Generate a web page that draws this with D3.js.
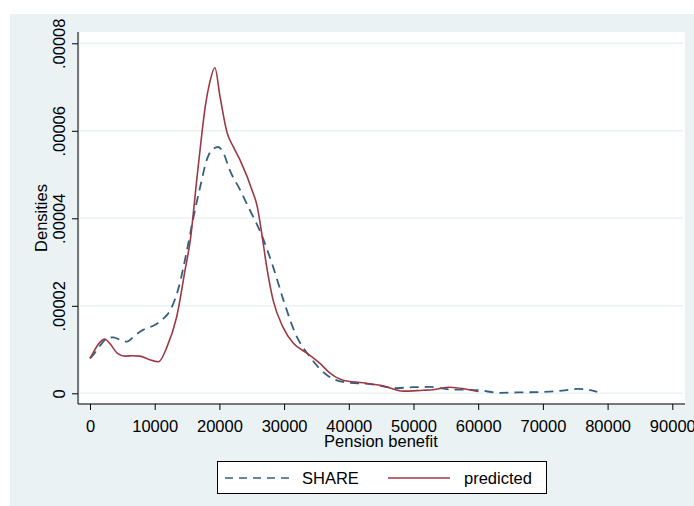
<!DOCTYPE html>
<html>
<head>
<meta charset="utf-8">
<script src="https://cdn.jsdelivr.net/npm/d3@7"></script>
<style>
  body { margin: 0; background: #fff; }
  text { font-family: "Liberation Sans", Arial, sans-serif; fill: #000; }
</style>
</head>
<body>
<svg id="chart" width="694" height="506"></svg>
<script>
// kernel densities of pension benefit
var shareX = [0, 500, 1500, 2600, 3600, 4700, 5700, 7000, 8200, 10000, 11300, 12400, 13600, 15000,
  15900, 17000, 18200, 19000, 19800, 20600, 21600, 23200, 24700, 26300, 28300, 29900, 31700,
  34000, 36600, 39100, 43300, 47400, 50000, 52500, 55600, 58300, 60000, 63400, 66000, 69600,
  73000, 75300, 77000, 78400];
var shareY = [0.80, 0.88, 1.08, 1.25, 1.28, 1.22, 1.18, 1.33, 1.45, 1.56, 1.70, 1.90, 2.36, 3.28,
  3.96, 4.70, 5.40, 5.58, 5.63, 5.50, 5.10, 4.65, 4.19, 3.70, 2.89, 2.13, 1.38,
  0.83, 0.42, 0.26, 0.21, 0.12, 0.14, 0.145, 0.09, 0.08, 0.07, 0.01, 0.02, 0.03,
  0.06, 0.10, 0.08, 0.03].map(function(d) { return d * 1e-5; });

var predX = [0, 300, 1550, 2300, 3000, 4200, 5400, 6600, 7700, 9000, 10600, 11900, 13400, 14700,
  15500, 16500, 17300, 17800, 18500, 19300, 20100, 21200, 22100, 23200, 25200, 25800, 26600,
  27300, 28300, 29800, 31400, 33500, 35500, 37100, 39100, 42200, 45300, 48400, 51500, 53000,
  55600, 58000, 60000];
var predY = [0.80, 0.88, 1.17, 1.24, 1.15, 0.92, 0.85, 0.86, 0.85, 0.78, 0.72, 1.06, 1.75, 2.82,
  3.50, 4.88, 5.95, 6.54, 7.10, 7.44, 6.78, 5.95, 5.65, 5.33, 4.58, 4.30, 3.60,
  2.90, 2.13, 1.52, 1.15, 0.92, 0.69, 0.46, 0.30, 0.24, 0.17, 0.05, 0.07, 0.08,
  0.14, 0.10, 0.04].map(function(d) { return d * 1e-5; });

var xTicks = [0, 10000, 20000, 30000, 40000, 50000, 60000, 70000, 80000, 90000];
var yTicks = [0, 0.00002, 0.00004, 0.00006, 0.00008];
var yTickLabels = ["0", ".00002", ".00004", ".00006", ".00008"];
var seriesNames = ["SHARE", "predicted"];

var svg = d3.select("#chart");
var fs = "16.5px";

// outer graph region
svg.append("rect").attr("x", 10).attr("y", 14).attr("width", 684).attr("height", 492)
  .attr("fill", "#eaf2f3");
// plot region
svg.append("rect").attr("x", 80).attr("y", 32).attr("width", 605).attr("height", 371)
  .attr("fill", "#fff");

var x = d3.scaleLinear().domain([0, 90000]).range([90, 672.3]);
var y = d3.scaleLinear().domain([0, 0.00008]).range([393.3, 43.3]);

// gridlines
svg.append("g").selectAll("line").data(yTicks).join("line")
  .attr("x1", 80).attr("x2", 683)
  .attr("y1", function(d) { return y(d); }).attr("y2", function(d) { return y(d); })
  .attr("stroke", "#eaf2f3").attr("stroke-width", 1.5);

// y axis
var yAxis = svg.append("g").attr("transform", "translate(78,0)")
  .call(d3.axisLeft(y).tickValues(yTicks).tickSize(6).tickPadding(6)
    .tickFormat(function(d, i) { return yTickLabels[i]; }));
yAxis.select(".domain").attr("d", "M0,32V404").attr("stroke", "#000");
yAxis.selectAll(".tick line").attr("stroke", "#000");
yAxis.selectAll(".tick text")
  .attr("transform", "rotate(-90)")
  .attr("x", 0).attr("y", -13).attr("dy", 0)
  .attr("text-anchor", "middle")
  .style("font-size", fs).style("font-family", "Liberation Sans, Arial, sans-serif");

// x axis
var xAxis = svg.append("g").attr("transform", "translate(0,404)")
  .call(d3.axisBottom(x).tickValues(xTicks).tickSize(6).tickPadding(4)
    .tickFormat(d3.format("d")));
xAxis.select(".domain").attr("d", "M78,0H685").attr("stroke", "#000");
xAxis.selectAll(".tick line").attr("stroke", "#000");
xAxis.selectAll(".tick text")
  .attr("y", 28).attr("dy", 0)
  .style("font-size", fs).style("font-family", "Liberation Sans, Arial, sans-serif");

// axis titles
svg.append("text").attr("x", 381).attr("y", 447).attr("text-anchor", "middle")
  .style("font-size", fs).text("Pension benefit");
svg.append("text").attr("transform", "translate(47,218) rotate(-90)")
  .attr("text-anchor", "middle").style("font-size", fs).text("Densities");

// curves
var line = d3.line()
  .x(function(d) { return x(d[0]); })
  .y(function(d) { return y(d[1]); })
  .curve(d3.curveMonotoneX);

svg.append("path")
  .datum(d3.zip(shareX, shareY))
  .attr("d", line).attr("fill", "none")
  .attr("stroke", "#34607f").attr("stroke-width", 1.8)
  .attr("stroke-dasharray", "9,6");

svg.append("path")
  .datum(d3.zip(predX, predY))
  .attr("d", line).attr("fill", "none")
  .attr("stroke", "#9b3a44").attr("stroke-width", 1.6);

// legend
var lg = svg.append("g");
lg.append("rect").attr("x", 217.5).attr("y", 461.5).attr("width", 329).attr("height", 32)
  .attr("fill", "#fff").attr("stroke", "#000").attr("stroke-width", 1);
lg.append("line").attr("x1", 225).attr("x2", 291).attr("y1", 478).attr("y2", 478)
  .attr("stroke", "#34607f").attr("stroke-width", 1.5).attr("stroke-dasharray", "8,6");
lg.append("text").attr("x", 302).attr("y", 484).style("font-size", fs).text(seriesNames[0]);
lg.append("line").attr("x1", 388).attr("x2", 450).attr("y1", 478).attr("y2", 478)
  .attr("stroke", "#9b3a44").attr("stroke-width", 1.5);
lg.append("text").attr("x", 464).attr("y", 484).style("font-size", fs).text(seriesNames[1]);
</script>
</body>
</html>
